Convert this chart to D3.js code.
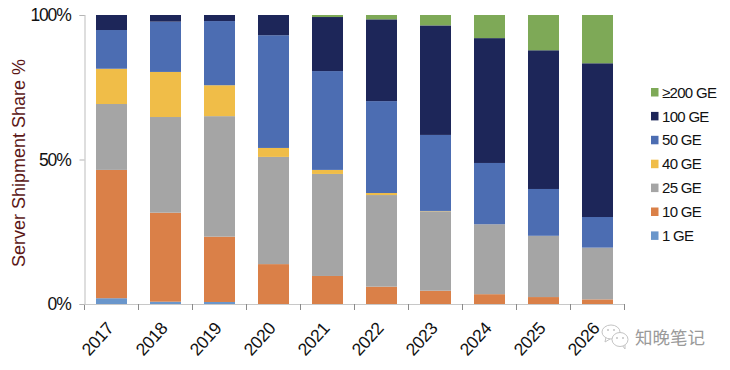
<!DOCTYPE html>
<html>
<head>
<meta charset="utf-8">
<script src="https://cdnjs.cloudflare.com/ajax/libs/d3/7.8.5/d3.min.js"></script>
<style>
  html, body { margin: 0; padding: 0; background: #fff; }
  text { font-family: "Liberation Sans", Arial, sans-serif; fill: #111; }
</style>
</head>
<body>
<div id="chart"></div>
<script>
const years = ["2017", "2018", "2019", "2020", "2021", "2022", "2023", "2024", "2025", "2026"];
const speeds = ["1 GE", "10 GE", "25 GE", "40 GE", "50 GE", "100 GE", "≥200 GE"];
const colors = ["#6a96cb", "#da8048", "#a5a5a5", "#f0bd48", "#4c6db2", "#1d2659", "#7ea957"];

const ge1 = [2, 0.8, 0.7, 0, 0, 0, 0, 0, 0, 0];
const ge10 = [44.4, 30.8, 22.6, 13.8, 9.7, 6, 4.6, 3.4, 2.4, 1.6];
const ge25 = [22.8, 33.1, 41.7, 37.1, 35.3, 31.7, 27.5, 24.2, 21.2, 17.9];
const ge40 = [12.2, 15.6, 10.7, 3.1, 1.4, 0.7, 0.1, 0, 0, 0];
const ge50 = [13.4, 17.4, 22.2, 39, 34.2, 31.8, 26.3, 21.2, 16.2, 10.6];
const ge100 = [5.2, 2.3, 2.1, 7, 18.7, 28.3, 37.9, 43.2, 48, 53.2];
const ge200 = [0, 0, 0, 0, 0.7, 1.5, 3.6, 8, 12.2, 16.7];

const yTicks = [0, 50, 100];

let margin = { top: 15, right: 105.5, bottom: 66, left: 84.5 },
  width = 730 - margin.left - margin.right,
  height = 370 - margin.top - margin.bottom;

let svg = d3
  .select("#chart")
  .append("svg")
  .attr("width", 730)
  .attr("height", 370)
  .style("display", "block");

let canvas = svg
  .append("g")
  .attr("transform", "translate(" + margin.left + "," + margin.top + ")");

let xScale = d3.scaleBand().domain(years).range([0, width]).paddingInner(0.426).paddingOuter(0.213);
let yScale = d3.scaleLinear().domain([0, 100]).range([height, 0]);
let colorScale = d3.scaleOrdinal().domain(speeds).range(colors);

let rows = years.map((year, i) => ({
  year: year,
  "1 GE": ge1[i],
  "10 GE": ge10[i],
  "25 GE": ge25[i],
  "40 GE": ge40[i],
  "50 GE": ge50[i],
  "100 GE": ge100[i],
  "≥200 GE": ge200[i],
}));

let stacked = d3.stack().keys(speeds)(rows);

canvas
  .selectAll("g.series")
  .data(stacked)
  .join("g")
  .attr("class", "series")
  .attr("fill", (d) => colorScale(d.key))
  .selectAll("rect")
  .data((d) => d)
  .join("rect")
  .attr("x", (d) => xScale(d.data.year))
  .attr("y", (d) => yScale(d[1]))
  .attr("width", xScale.bandwidth())
  .attr("height", (d) => yScale(d[0]) - yScale(d[1]));

// band edges carry the ticks, the axis only draws labels
let xAxisEl = canvas
  .append("g")
  .attr("transform", "translate(0," + height + ")")
  .call(d3.axisBottom(xScale).tickSize(0).tickPadding(0));

xAxisEl.select(".domain").attr("stroke", "#c8c8c8").attr("stroke-width", 1.2);

xAxisEl
  .selectAll("text")
  .attr("font-family", '"Liberation Sans", Arial, sans-serif')
  .attr("font-size", 17.5)
  .attr("fill", "#111")
  .style("letter-spacing", "-0.4px")
  .style("text-anchor", "end")
  .attr("x", 0)
  .attr("y", 0)
  .attr("dy", "0.35em")
  .attr("transform", "translate(-1.5,21) rotate(-48)");

let edges = years.map((y) => xScale(y) - (xScale.step() - xScale.bandwidth()) / 2).concat([width]);
xAxisEl
  .selectAll("line.edge")
  .data(edges)
  .join("line")
  .attr("class", "edge")
  .attr("x1", (d) => d)
  .attr("x2", (d) => d)
  .attr("y1", 0)
  .attr("y2", 6)
  .attr("stroke", "#8a8a8a")
  .attr("stroke-width", 1);

let yAxisEl = canvas.append("g").call(
  d3.axisLeft(yScale).tickValues(yTicks).tickSize(5).tickPadding(9).tickFormat((d) => d + "%")
);
yAxisEl.select(".domain").attr("stroke", "#c8c8c8").attr("stroke-width", 1.2);
yAxisEl.selectAll("line").attr("stroke", "#b5b5b5");
yAxisEl
  .selectAll("text")
  .attr("font-family", '"Liberation Sans", Arial, sans-serif')
  .attr("font-size", 17.5)
  .attr("fill", "#111")
  .style("letter-spacing", "-1.2px");

svg
  .append("text")
  .attr("transform", "translate(25,163) rotate(-90)")
  .attr("text-anchor", "middle")
  .style("fill", "#5b1717")
  .style("font-size", "18px")
  .text("Server Shipment Share %");

let legend = svg.append("g").attr("transform", "translate(651,88)");
let legendRows = legend
  .selectAll("g")
  .data(speeds.slice().reverse())
  .join("g")
  .attr("transform", (d, i) => "translate(0," + i * 23.9 + ")");
legendRows
  .append("rect")
  .attr("width", 7.5)
  .attr("height", 8.5)
  .attr("fill", (d) => colorScale(d));
legendRows
  .append("text")
  .attr("x", 11)
  .attr("y", 4.2)
  .attr("dy", "0.36em")
  .style("font-size", "15px")
  .style("letter-spacing", "-0.7px")
  .text((d) => d);

// watermark
let mark = svg.append("g").attr("transform", "translate(602,325)");
mark
  .append("path")
  .attr("d", "M4,12 L3,17 L8,14 Z M20,20 L23,24 L23,19 Z")
  .attr("fill", "#fff")
  .attr("stroke", "#c4c4c4")
  .attr("stroke-width", 1);
mark
  .append("ellipse")
  .attr("cx", 9).attr("cy", 7).attr("rx", 9).attr("ry", 7)
  .attr("fill", "#fff").attr("stroke", "#c4c4c4").attr("stroke-width", 1);
mark
  .append("ellipse")
  .attr("cx", 18).attr("cy", 14.5).attr("rx", 8).attr("ry", 7)
  .attr("fill", "#fff").attr("stroke", "#c4c4c4").attr("stroke-width", 1);
mark
  .selectAll("circle")
  .data([[6, 5], [12, 5], [15, 13], [21, 13]])
  .join("circle")
  .attr("cx", (d) => d[0])
  .attr("cy", (d) => d[1])
  .attr("r", 0.9)
  .attr("fill", "#bdbdbd");
svg
  .append("text")
  .attr("x", 635)
  .attr("y", 344)
  .style("font-family", '"Noto Sans CJK SC", sans-serif')
  .style("font-size", "17.5px")
  .style("fill", "#9a9a9a")
  .text("知晚笔记");
</script>
</body>
</html>
